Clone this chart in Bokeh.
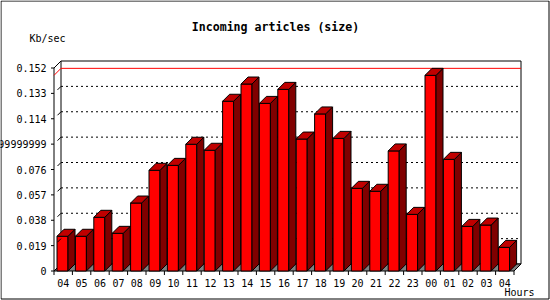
from bokeh.plotting import figure
from bokeh.models import Range1d
from bokeh.core.properties import value
from bokeh.embed import file_html
from bokeh.resources import INLINE

# ---------------- data ----------------
hours = ["04", "05", "06", "07", "08", "09", "10", "11", "12", "13", "14", "15", "16",
         "17", "18", "19", "20", "21", "22", "23", "00", "01", "02", "03", "04"]
kb_per_sec = [0.0260, 0.0260, 0.0402, 0.0282, 0.0509, 0.0754, 0.0791, 0.0949, 0.0904,
              0.1271, 0.1400, 0.1255, 0.1360, 0.0988, 0.1176, 0.0993, 0.0619, 0.0597,
              0.0899, 0.0424, 0.1465, 0.0836, 0.0334, 0.0344, 0.0177]
y_tick_values = [0, 0.019, 0.038, 0.057, 0.076, 0.095, 0.114, 0.133, 0.152]
y_tick_labels = ["0", "0.019", "0.038", "0.057", "0.076", "0.0949999999999999",
                 "0.114", "0.133", "0.152"]
title_text = "Incoming articles (size)"
y_unit = "Kb/sec"
x_unit = "Hours"

# ---------------- layout (pixels) ----------------
W, H = 550, 300
SLOT_PX = 18.4
X0_PX = 53.5
Y0_PX = 270.5
TOP_PX = 67.5
DEPTH_PX = 7.0
YMAX = y_tick_values[-1]
PPU = (Y0_PX - TOP_PX) / YMAX
N = len(hours)


def xd(px):
    return (px - X0_PX) / SLOT_PX


def yd(py):
    return (Y0_PX - py) / PPU


DX = DEPTH_PX / SLOT_PX
DY = DEPTH_PX / PPU

FONT = value("DejaVu Sans Mono")
RED = "#FF0000"
DARK = "#800000"
TOPC = "#C00000"

p = figure(width=W, height=H, x_range=Range1d(xd(0), xd(W)), y_range=Range1d(yd(H), yd(0)),
           output_backend="svg", toolbar_location=None, min_border=0,
           x_axis_type=None, y_axis_type=None)
p.xgrid.visible = False
p.ygrid.visible = False
p.outline_line_color = None
p.background_fill_color = "white"
p.border_fill_color = "white"

# outer border
p.quad(left=[xd(0.5)], right=[xd(548.5)], bottom=[yd(298.5)], top=[yd(0.5)],
       fill_color=None, line_color="black", line_width=1)

# back wall
p.quad(left=[DX], right=[N + DX], bottom=[DY], top=[YMAX + DY],
       fill_color="white", line_color="black", line_width=1)

# dotted gridlines on back wall
gv = y_tick_values[1:-1]
p.segment(x0=[DX] * len(gv), x1=[N + DX] * len(gv), y0=[v + DY for v in gv],
          y1=[v + DY for v in gv], line_color="black", line_dash="2 3", line_width=1)

# floor
p.patch(x=[0, DX, N + DX, N], y=[0, DY, DY, 0], fill_color="#808080",
        line_color="black", line_width=1)

# front y axis line + top diagonal
p.line(x=[0, 0, DX], y=[0, YMAX, YMAX + DY], line_color="black", line_width=1)

# max line (red) on back wall
vmax = max(kb_per_sec)
p.line(x=[0, DX, N + DX], y=[vmax, vmax + DY, vmax + DY], line_color=RED, line_width=1)

# bars
gap = 3.0 / SLOT_PX
bw = 11.0 / SLOT_PX
lefts = [i + gap for i in range(N)]
rights = [l + bw for l in lefts]
p.quad(left=lefts, right=rights, bottom=[0] * N, top=kb_per_sec,
       fill_color=RED, line_color="black", line_width=1)
side_x = [[r, r, r + DX, r + DX] for r in rights]
side_y = [[0, v, v + DY, DY] for v in kb_per_sec]
p.patches(xs=side_x, ys=side_y, fill_color=DARK, line_color="black", line_width=1)
top_x = [[l, r, r + DX, l + DX] for l, r in zip(lefts, rights)]
top_y = [[v, v, v + DY, v + DY] for v in kb_per_sec]
p.patches(xs=top_x, ys=top_y, fill_color=TOPC, line_color="black", line_width=1)

# y ticks
p.segment(x0=[xd(50.5)] * len(y_tick_values), x1=[0] * len(y_tick_values),
          y0=y_tick_values, y1=y_tick_values, line_color="black", line_width=1)
p.segment(x0=[DX / 2] * len(gv), x1=[DX] * len(gv), y0=[v + DY / 2 for v in gv],
          y1=[v + DY for v in gv], line_color="black", line_width=1)
p.text(x=[xd(46)] * len(y_tick_values), y=y_tick_values, text=y_tick_labels,
       text_font=FONT, text_font_size="10px", text_align="right",
       text_baseline="middle", text_color="black")

# x ticks
p.segment(x0=list(range(N + 1)), x1=list(range(N + 1)), y0=[0] * (N + 1),
          y1=[yd(274.5)] * (N + 1), line_color="black", line_width=1)
p.text(x=[i + 0.5 for i in range(N)], y=[yd(282)] * N, text=hours,
       text_font=FONT, text_font_size="10px", text_align="center",
       text_baseline="middle", text_color="black")

# titles
p.text(x=[xd(275)], y=[yd(26.5)], text=[title_text], text_font=FONT,
       text_font_size="11.6px", text_font_style="bold", text_align="center",
       text_baseline="middle", text_color="black")
p.text(x=[xd(29)], y=[yd(37.5)], text=[y_unit], text_font=FONT, text_font_size="10px",
       text_align="left", text_baseline="middle", text_color="black")
p.text(x=[xd(504)], y=[yd(292)], text=[x_unit], text_font=FONT, text_font_size="10px",
       text_align="left", text_baseline="middle", text_color="black")

open("out.html", "w").write(file_html(p, INLINE))
